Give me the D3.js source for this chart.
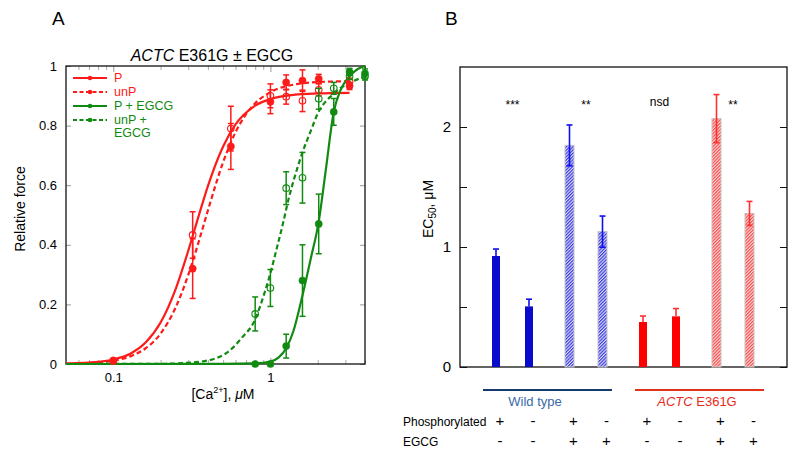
<!DOCTYPE html>
<html><head><meta charset="utf-8">
<script src="https://cdn.jsdelivr.net/npm/d3@7"></script>
<style>body{margin:0;background:#fff} svg{font-family:"Liberation Sans",Arial,sans-serif}</style>
</head><body><svg id="c" width="800" height="456"></svg>
<script>
// ---------- Panel A data ----------
const redX = [0.1, 0.32, 0.56, 1.0, 1.26, 1.6, 2.03, 3.19];
const pForce = [0.012, 0.32, 0.73, 0.88, 0.945, 0.951, 0.957, 0.933];
const pErr = [0.005, 0.10, 0.077, 0.04, 0.025, 0.036, 0.015, 0.012];
const unpForce = [0.01, 0.433, 0.79, 0.90, 0.897, 0.883, 0.92, 0.947];
const unpErr = [0.005, 0.078, 0.075, 0.04, 0.025, 0.036, 0.02, 0.012];
const greenX = [0.8, 1.0, 1.26, 1.6, 2.03, 2.53, 3.19, 4.0];
const pEgcgForce = [0, 0, 0.06, 0.28, 0.47, 0.846, 0.98, 0.975];
const pEgcgErr = [0, 0, 0.04, 0.12, 0.10, 0.045, 0.012, 0.015];
const unpEgcgForce = [0.168, 0.255, 0.59, 0.625, 0.89, 0.925, 0.965, 0.965];
const unpEgcgErr = [0.057, 0.062, 0.055, 0.085, 0.035, 0.02, 0.01, 0.012];
// fitted curves
const fitP = [[0.05,0.0015],[0.08,0.007],[0.1,0.015],[0.13,0.036],[0.16,0.071],[0.2,0.139],[0.25,0.253],[0.3,0.38],[0.35,0.498],[0.4,0.597],[0.5,0.73],[0.6,0.804],[0.8,0.867],[1.0,0.889],[1.5,0.905],[2.0,0.908],[3.19,0.91]];
const fitUnP = [[0.05,0.0012],[0.08,0.0055],[0.1,0.011],[0.13,0.027],[0.16,0.052],[0.2,0.102],[0.25,0.191],[0.3,0.299],[0.35,0.411],[0.4,0.515],[0.5,0.677],[0.6,0.778],[0.8,0.875],[1.0,0.912],[1.5,0.94],[2.0,0.946],[3.19,0.949]];
const fitPEgcg = [[0.05,0],[0.5,0.0005],[0.8,0.002],[1.0,0.008],[1.13,0.022],[1.26,0.053],[1.4,0.11],[1.6,0.23],[1.8,0.35],[2.03,0.478],[2.25,0.65],[2.53,0.846],[2.8,0.92],[3.17,0.964],[3.6,0.99],[4.0,1.0]];
const fitUnPEgcg = [[0.05,0],[0.2,0.0005],[0.28,0.003],[0.41,0.013],[0.55,0.045],[0.65,0.085],[0.8,0.15],[0.9,0.225],[1.0,0.305],[1.1,0.39],[1.2,0.47],[1.3,0.55],[1.45,0.64],[1.6,0.71],[1.8,0.78],[2.0,0.84],[2.5,0.905],[3.15,0.942],[4.0,0.964]];
const xMajor = [0.1, 1];
const xMinor = [0.06,0.07,0.08,0.09,0.2,0.3,0.4,0.5,0.6,0.7,0.8,0.9,2,3,4];
const yTicksA = [0, 0.2, 0.4, 0.6, 0.8, 1];
const legendLabels = [["P"],["unP"],["P + EGCG"],["unP +","EGCG"]];

// ---------- Panel B data ----------
const groupsB = ["WT", "WT+EGCG", "E361G", "E361G+EGCG"];
const phosB = ["+", "-"];
const ec50 = [0.925, 0.505, 1.847, 1.128, 0.375, 0.422, 2.07, 1.28];
const ec50Err = [0.058, 0.06, 0.17, 0.13, 0.05, 0.065, 0.2, 0.1];
const phosLabels = ["+", "-", "+", "-", "+", "-", "+", "-"];
const egcgLabels = ["-", "-", "+", "+", "-", "-", "+", "+"];
const sigLabels = ["***", "**", "nsd", "**"];
const yTicksB = [0, 0.5, 1, 1.5, 2];

const RED = "#ff1a1a", GREEN = "#118a11", BLUE = "#0a0acc";
const svg = d3.select("#c");

// ================= Panel A =================
const xA = d3.scaleLog().domain([0.05, 4]).range([66, 365]);
const yA = d3.scaleLinear().domain([0, 1]).range([364, 66]);
const A = svg.append("g");
A.append("text").attr("x", 52).attr("y", 25).attr("font-size", 19).text("A");
const title = A.append("text").attr("x", 212).attr("y", 61).attr("text-anchor", "middle").attr("font-size", 16);
title.append("tspan").attr("font-style", "italic").text("ACTC");
title.append("tspan").text(" E361G ± EGCG");

function styleAxis(g, col) {
  g.select(".domain").remove();
  g.selectAll(".tick line").attr("stroke", col);
  g.selectAll(".tick text").attr("font-size", 13).attr("fill", "#000").attr("font-family", "Liberation Sans, Arial, sans-serif");
}
// bottom
A.append("g").attr("transform", "translate(0,364)")
  .call(d3.axisBottom(xA).tickValues(xMajor).tickFormat(d3.format("")).tickSize(-6).tickPadding(9))
  .call(g => styleAxis(g, "#999"));
A.append("g").attr("transform", "translate(0,364)")
  .call(d3.axisBottom(xA).tickValues(xMinor).tickFormat("").tickSize(-4))
  .call(g => styleAxis(g, "#aaa"));
// top
A.append("g").attr("transform", "translate(0,66)")
  .call(d3.axisTop(xA).tickValues(xMajor).tickFormat("").tickSize(-6))
  .call(g => styleAxis(g, "#999"));
A.append("g").attr("transform", "translate(0,66)")
  .call(d3.axisTop(xA).tickValues(xMinor).tickFormat("").tickSize(-4))
  .call(g => styleAxis(g, "#aaa"));
// left / right
A.append("g").attr("transform", "translate(66,0)")
  .call(d3.axisLeft(yA).tickValues(yTicksA).tickFormat(d => (d === 0 || d === 1) ? d : d3.format(".1f")(d)).tickSize(-5).tickPadding(9))
  .call(g => styleAxis(g, "#999"));
A.append("g").attr("transform", "translate(365,0)")
  .call(d3.axisRight(yA).tickValues(yTicksA).tickFormat("").tickSize(-5))
  .call(g => styleAxis(g, "#999"));
A.append("rect").attr("x", 66).attr("y", 66).attr("width", 299).attr("height", 298)
  .attr("fill", "none").attr("stroke", "#111").attr("stroke-width", 1.3);

// axis labels
A.append("text").attr("transform", "translate(25,209) rotate(-90)").attr("text-anchor", "middle")
  .attr("font-size", 14).text("Relative force");
const xl = A.append("text").attr("x", 223).attr("y", 399).attr("text-anchor", "middle").attr("font-size", 14);
xl.append("tspan").text("[Ca");
xl.append("tspan").attr("font-size", 9).attr("dy", -6).text("2+");
xl.append("tspan").attr("dy", 6).text("], ");
xl.append("tspan").attr("font-style", "italic").text("μ");
xl.append("tspan").text("M");

// curves
const line = d3.line().x(d => xA(d[0])).y(d => yA(d[1])).curve(d3.curveMonotoneX);
const fits = [
  {d: fitP, c: RED, dash: null},
  {d: fitUnP, c: RED, dash: "5,3"},
  {d: fitPEgcg, c: GREEN, dash: null},
  {d: fitUnPEgcg, c: GREEN, dash: "5,3"}
];
fits.forEach(f => {
  A.append("path").attr("d", line(f.d)).attr("fill", "none").attr("stroke", f.c)
    .attr("stroke-width", 2.2).attr("stroke-dasharray", f.dash);
});

// points with error bars
function drawSeries(xs, ys, es, col, open) {
  const g = A.append("g");
  xs.forEach((x, i) => {
    const cx = xA(x), e = es[i];
    if (e > 0) {
      const y0 = yA(ys[i] - e), y1 = yA(ys[i] + e);
      g.append("line").attr("x1", cx).attr("x2", cx).attr("y1", y0).attr("y2", y1).attr("stroke", col).attr("stroke-width", 1.5);
      [y0, y1].forEach(yy => g.append("line").attr("x1", cx - 3).attr("x2", cx + 3).attr("y1", yy).attr("y2", yy).attr("stroke", col).attr("stroke-width", 1.5));
    }
    g.append("circle").attr("cx", cx).attr("cy", yA(ys[i])).attr("r", open ? 3.3 : 3.6)
      .attr("fill", open ? "none" : col).attr("stroke", col).attr("stroke-width", open ? 1.1 : 0.5);
  });
}
drawSeries(redX, unpForce, unpErr, RED, true);
drawSeries(redX, pForce, pErr, RED, false);
drawSeries(greenX, unpEgcgForce, unpEgcgErr, GREEN, true);
drawSeries(greenX, pEgcgForce, pEgcgErr, GREEN, false);

// legend
const legY = [78, 92, 106, 120];
const legCols = [RED, RED, GREEN, GREEN];
const legDash = [null, "4,2.5", null, "4,2.5"];
legendLabels.forEach((lab, i) => {
  const y = legY[i];
  A.append("line").attr("x1", 73).attr("x2", 107).attr("y1", y).attr("y2", y)
    .attr("stroke", legCols[i]).attr("stroke-width", 2.2).attr("stroke-dasharray", legDash[i]);
  A.append("circle").attr("cx", 90).attr("cy", y).attr("r", 2.3).attr("fill", legCols[i]);
  lab.forEach((t, j) => {
    A.append("text").attr("x", 114).attr("y", y + 4.3 + j * 13).attr("font-size", 12.5)
      .attr("fill", legCols[i]).text(t);
  });
});

// ================= Panel B =================
const B = svg.append("g");
B.append("text").attr("x", 445).attr("y", 25).attr("font-size", 19).text("B");
const yB = d3.scaleLinear().domain([0, 2.5]).range([367, 67]);
const x0 = d3.scaleBand().domain(groupsB).range([475.75, 769.75]).padding(0);
const x1 = d3.scaleBand().domain(phosB).range([3.75, 69.75]).padding(0);
const barX = i => x0(groupsB[Math.floor(i / 2)]) + x1(phosB[i % 2]) + x1.bandwidth() / 2;

const defs = svg.append("defs");
[["hatchBlue", "#3030e0", "#dcdcf6"], ["hatchRed", "#ff3a3a", "#f8e0e0"]].forEach(([id, c, bg]) => {
  const p = defs.append("pattern").attr("id", id).attr("patternUnits", "userSpaceOnUse")
    .attr("width", 2.3).attr("height", 2.3).attr("patternTransform", "rotate(45)");
  p.append("rect").attr("width", 2.3).attr("height", 2.3).attr("fill", bg);
  p.append("line").attr("x1", 0.6).attr("x2", 0.6).attr("y1", 0).attr("y2", 2.3).attr("stroke", c).attr("stroke-width", 1.1);
});

// axes B
B.append("g").attr("transform", "translate(460,0)")
  .call(d3.axisLeft(yB).tickValues(yTicksB).tickFormat(d => Number.isInteger(d) ? d : "").tickSize(-7).tickPadding(9))
  .call(g => { styleAxis(g, "#111"); g.selectAll("text").attr("font-size", 15); });
B.append("g").attr("transform", "translate(787,0)")
  .call(d3.axisRight(yB).tickValues(yTicksB).tickFormat("").tickSize(-7))
  .call(g => styleAxis(g, "#111"));
B.append("rect").attr("x", 460).attr("y", 67).attr("width", 327).attr("height", 300)
  .attr("fill", "none").attr("stroke", "#111").attr("stroke-width", 1.3);

const yl = B.append("text").attr("transform", "translate(433,209) rotate(-90)").attr("text-anchor", "middle").attr("font-size", 14);
yl.append("tspan").text("EC");
yl.append("tspan").attr("font-size", 10).attr("dy", 3).text("50");
yl.append("tspan").attr("dy", -3).text(", μM");

// bars
ec50.forEach((v, i) => {
  const cx = barX(i);
  const hatched = (i % 4) >= 2;
  const isRed = i >= 4;
  const col = isRed ? "#ff0000" : BLUE;
  const w = hatched ? 9 : 8;
  B.append("rect").attr("x", cx - w / 2).attr("y", yB(v)).attr("width", w).attr("height", yB(0) - yB(v))
    .attr("fill", hatched ? (isRed ? "url(#hatchRed)" : "url(#hatchBlue)") : col)
    .attr("stroke", hatched ? "#c4c4c4" : "none").attr("stroke-width", 1);
  const ecol = isRed ? "#ff3030" : "#1010ee";
  const top = yB(v + ec50Err[i]);
  const bot = hatched ? yB(v - ec50Err[i]) : yB(v);
  B.append("line").attr("x1", cx).attr("x2", cx).attr("y1", top).attr("y2", bot).attr("stroke", ecol).attr("stroke-width", 1.6);
  B.append("line").attr("x1", cx - 3).attr("x2", cx + 3).attr("y1", top).attr("y2", top).attr("stroke", ecol).attr("stroke-width", 1.6);
  if (hatched) B.append("line").attr("x1", cx - 3).attr("x2", cx + 3).attr("y1", bot).attr("y2", bot).attr("stroke", ecol).attr("stroke-width", 1.6);
  B.append("text").attr("x", cx + 4).attr("y", 426).attr("text-anchor", "middle").attr("font-size", 15).text(phosLabels[i]);
  B.append("text").attr("x", cx + 4).attr("y", 446).attr("text-anchor", "middle").attr("font-size", 15).text(egcgLabels[i]);
});

// significance labels
sigLabels.forEach((s, k) => {
  const cx = (barX(2 * k) + barX(2 * k + 1)) / 2;
  B.append("text").attr("x", cx).attr("y", s === "nsd" ? 106 : 109).attr("text-anchor", "middle")
    .attr("font-size", 12).text(s);
});

// group lines
B.append("line").attr("x1", 483).attr("x2", 612).attr("y1", 390).attr("y2", 390).attr("stroke", "#163a6e").attr("stroke-width", 2);
B.append("text").attr("x", 535).attr("y", 406).attr("text-anchor", "middle").attr("font-size", 13).attr("fill", "#3a68a8").text("Wild type");
B.append("line").attr("x1", 635).attr("x2", 764).attr("y1", 390).attr("y2", 390).attr("stroke", "#e0321c").attr("stroke-width", 2);
const ac = B.append("text").attr("x", 697).attr("y", 406).attr("text-anchor", "middle").attr("font-size", 13).attr("fill", "#e62a1a");
ac.append("tspan").attr("font-style", "italic").text("ACTC");
ac.append("tspan").text(" E361G");

B.append("text").attr("x", 403).attr("y", 426).attr("font-size", 12).text("Phosphorylated");
B.append("text").attr("x", 403).attr("y", 446).attr("font-size", 12).text("EGCG");
</script></body></html>
